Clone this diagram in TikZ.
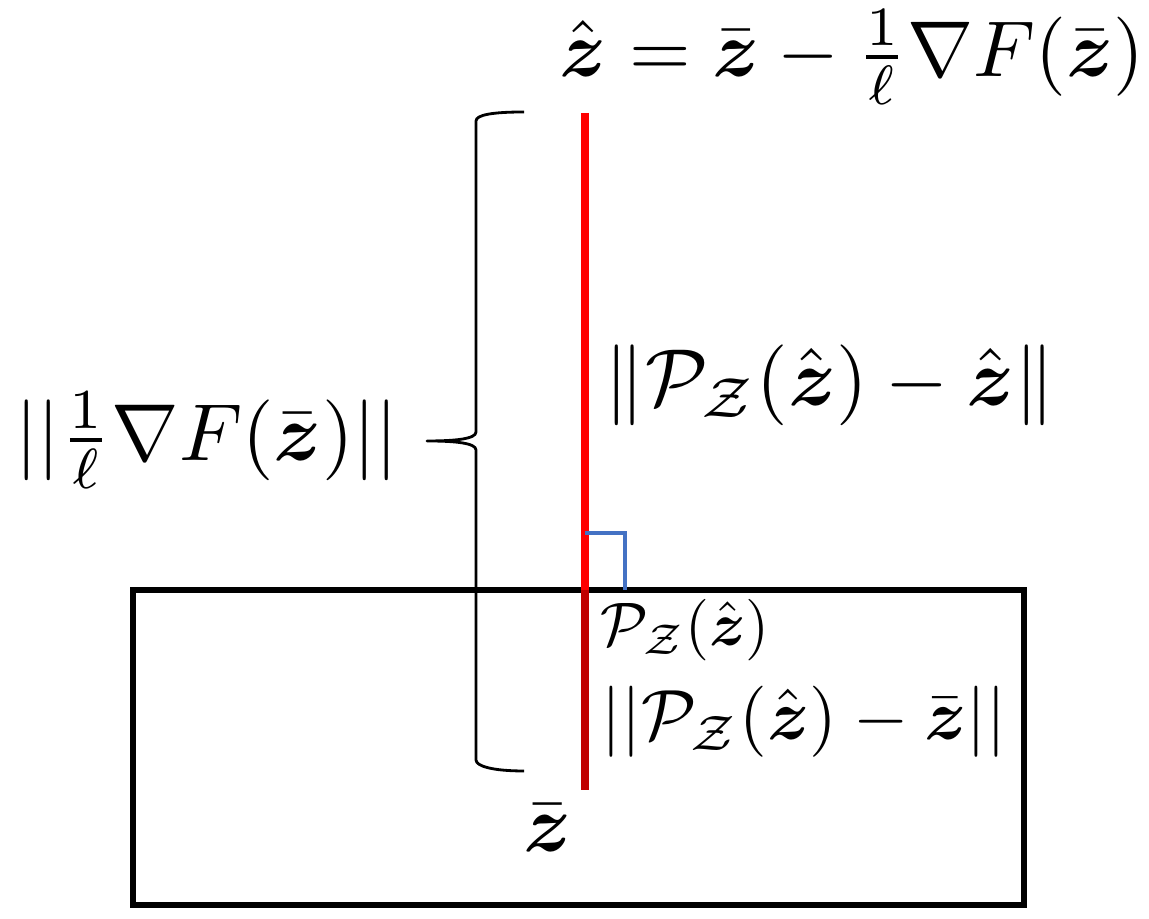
\documentclass[tikz,border=0pt]{standalone}
\usepackage{amsmath}
\usepackage{amssymb}
\usetikzlibrary{positioning}
\definecolor{projred}{RGB}{255,0,0}
\definecolor{darkred}{RGB}{192,0,0}
\definecolor{angleblue}{RGB}{68,114,196}
\newcommand{\bz}{\boldsymbol{z}}

\begin{document}
\begin{tikzpicture}[lbl/.style={scale=2.3,inner sep=0pt},
	smalllbl/.style={scale=1.75,inner sep=0pt}]
	\useasboundingbox (0,0) rectangle (11.49,9.19);

	% the set Z
	\draw [line width=1.8pt] (1.33, 0.14) rectangle (10.24, 3.29);

	\coordinate (zhat) at (5.85, 8.06);
	\coordinate (proj) at (5.85, 3.29);
	\coordinate (zbar) at (5.85, 1.29);

	\draw [line width=2.2pt, projred] (zhat) -- (proj);
	\draw [line width=2.2pt, darkred] (proj) -- (zbar);
	\draw [line width=1.1pt, angleblue] (5.85, 3.86) -- (6.25, 3.86) -- (6.25, 3.29);

	% brace
	\draw [thick, line join=round] (5.24, 8.07) .. controls (4.92, 8.07) and (4.76, 8.04) .. (4.76, 7.98)
		-- (4.76, 4.87) .. controls (4.76, 4.80) and (4.55, 4.78) .. (4.27, 4.78)
		.. controls (4.55, 4.78) and (4.76, 4.76) .. (4.76, 4.69)
		-- (4.76, 1.59) .. controls (4.76, 1.53) and (4.92, 1.48) .. (5.24, 1.48);

	\node [lbl, scale=0.98] (top) at (8.52, 8.62) {$\hat{\bz} = \bar{\bz} - \frac{1}{\ell}\nabla F(\bar{\bz})$};
	\node [lbl] (dist) at (8.30, 5.34) {$\|\mathcal{P}_{\mathcal{Z}}(\hat{\bz}) - \hat{\bz}\|$};
	\node [smalllbl] (p) at (6.85, 2.89) {$\mathcal{P}_{\mathcal{Z}}(\hat{\bz})$};
	\node [lbl, scale=0.88] (pbar) at (8.04, 1.97) {$||\mathcal{P}_{\mathcal{Z}}(\hat{\bz}) - \bar{\bz}||$};
	\node [lbl] (zb) at (5.48, 0.91) {$\bar{\bz}$};
	\node [lbl, anchor=east] (grad) at (4.00, 4.79) {$||\frac{1}{\ell}\nabla F(\bar{\bz})||$};
\end{tikzpicture}
\end{document}
